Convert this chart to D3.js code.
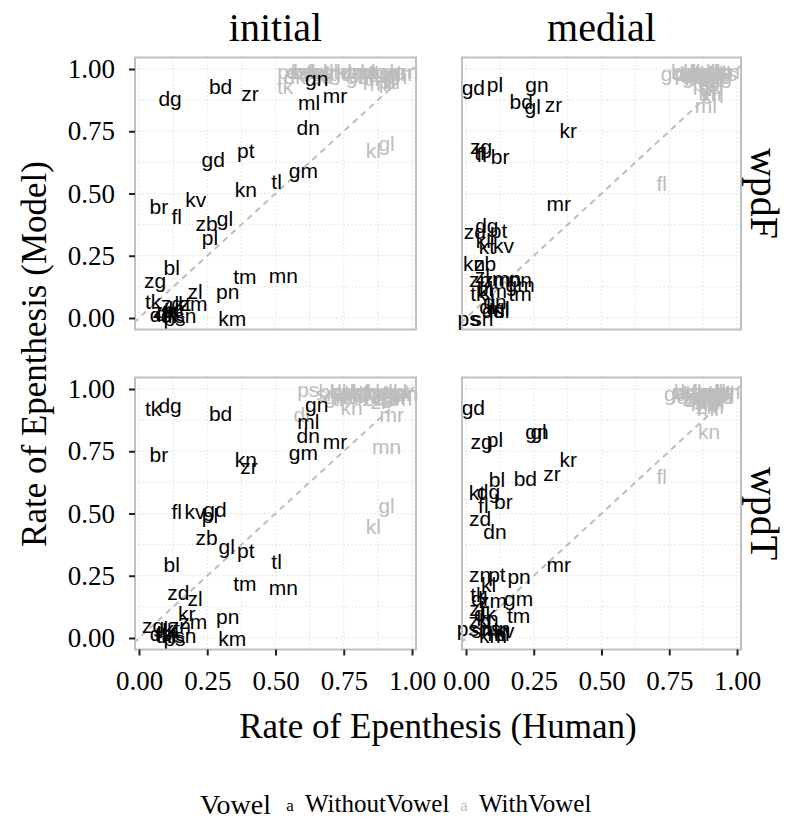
<!DOCTYPE html>
<html>
<head>
<meta charset="utf-8">
<script src="https://cdn.jsdelivr.net/npm/d3@7"></script>
<style>
  body { margin: 0; background: #fff; }
  svg text { font-family: "Liberation Serif", "Times New Roman", serif; }
  .lab { font-family: "Liberation Sans", Arial, sans-serif; font-size: 21px; }
</style>
</head>
<body>
<div id="chart"></div>
<script>
// facets
const positions = ["initial", "medial"];
const corpora = ["wpdF", "wpdT"];
const ticks = [0, 0.25, 0.5, 0.75, 1];
const minorTicks = [0.125, 0.375, 0.625, 0.875];
const vowelLevels = ["WithoutVowel", "WithVowel"];

// [cluster, human rate, model rate]
const initialF_without = [
  ["dg",.114,.883],["bd",.299,.929],["zr",.407,.902],["gn",.651,.963],["mr",.718,.893],
  ["ml",.623,.866],["dn",.620,.764],["pt",.391,.671],["gd",.272,.635],["gm",.602,.594],
  ["tl",.504,.550],["kn",.391,.518],["kv",.208,.474],["br",.073,.447],["fl",.138,.407],
  ["zb",.248,.380],["gl",.315,.400],["pl",.260,.323],["bl",.120,.202],["zg",.059,.149],
  ["tm",.388,.166],["mn",.529,.170],["zl",.205,.106],["pn",.325,.108],["tk",.052,.068],
  ["km",.342,.000],["zd",.120,.060],["kt",.160,.060],["zm",.200,.060],["kr",.140,.040],
  ["ds",.080,.015],["dk",.100,.020],["dl",.110,.010],["ps",.130,.000],["sn",.170,.010],
  ["zn",.090,.030],["kl",.120,.030]
];
const initialF_with = [
  ["kl",.858,.671],["gl",.907,.701],["ps",.547,.990],["tk",.535,.930],
  ["bd",.60,.99],["bl",.66,.99],["br",.93,.95],["dg",.63,.98],["dk",.57,.97],["dl",.70,.99],
  ["dn",.78,.99],["ds",.58,.99],["fl",.86,.98],["gd",.74,.98],["gm",.82,.99],["gn",.80,.97],
  ["km",.90,.99],["kn",.88,.98],["kr",.95,.99],["kt",.84,.99],["kv",.76,.99],["ml",.92,.98],
  ["mn",.97,.99],["mr",.89,.94],["pl",.85,.96],["pn",.94,.97],["pt",.91,.95],["sn",.64,.99],
  ["tl",.68,.98],["tm",.72,.99],["zb",.62,.99],["zd",.67,.97],["zg",.87,.99],["zl",.83,.97],
  ["zm",.79,.99],["zn",.96,.98],["zr",.81,.99]
];
const medialF_without = [
  ["gd",.027,.925],["pl",.107,.938],["gn",.262,.938],["bd",.204,.871],["gl",.246,.849],
  ["zr",.323,.858],["kr",.377,.755],["zg",.056,.688],["tl",.050,.665],["fl",.058,.655],
  ["br",.126,.648],["mr",.342,.461],["dg",.077,.373],["pt",.120,.353],["zd",.033,.347],
  ["kl",.064,.313],["kv",.138,.293],["kt",.077,.286],["kn",.030,.220],["zb",.070,.220],
  ["zn",.052,.153],["zm",.114,.153],["pn",.200,.153],["gm",.200,.133],["tm",.200,.100],
  ["tk",.046,.099],["dn",.107,.066],["ps",.010,.000],["sn",.060,.000],["ds",.100,.030],
  ["dl",.130,.030],["dk",.090,.045],["bl",.070,.120],["km",.100,.110],["ml",.120,.040],
  ["mn",.150,.160],["zl",.060,.170]
];
const medialF_with = [
  ["fl",.722,.541],["gd",.762,.983],["ml",.885,.855],["zn",.910,.922],["kn",.910,.895],
  ["bd",.80,.99],["bl",.83,.98],["br",.86,.99],["dg",.88,.97],["dk",.90,.99],["dl",.92,.98],
  ["dn",.94,.99],["ds",.96,.98],["gl",.82,.99],["gm",.85,.97],["gn",.87,.99],["kl",.89,.98],
  ["km",.91,.97],["kr",.93,.96],["kt",.95,.99],["kv",.84,.99],["mn",.86,.96],["mr",.90,.95],
  ["pl",.92,.94],["pn",.88,.94],["ps",.81,.98],["pt",.93,.99],["sn",.97,.99],["tk",.89,.93],
  ["tl",.91,.99],["tm",.90,.90],["zb",.85,.99],["zd",.87,.98],["zg",.94,.97],["zl",.89,.96],
  ["zm",.92,.97],["zr",.90,.92]
];
const initialT_without = [
  ["tk",.052,.922],["dg",.114,.933],["bd",.299,.902],["gn",.651,.936],["ml",.620,.869],
  ["dn",.620,.815],["mr",.718,.791],["gm",.602,.746],["br",.073,.738],["kn",.391,.715],
  ["zr",.403,.688],["fl",.138,.510],["kv",.205,.507],["gd",.278,.518],["pl",.260,.491],
  ["zb",.248,.403],["gl",.321,.367],["pt",.391,.353],["tl",.504,.309],["bl",.120,.296],
  ["tm",.388,.220],["mn",.529,.202],["zd",.144,.183],["zl",.205,.159],["kr",.175,.099],
  ["zm",.199,.068],["pn",.325,.086],["zg",.052,.052],["km",.342,.000],["ds",.080,.020],
  ["ps",.130,.000],["sn",.170,.010],["kt",.120,.040],["dk",.100,.030],["zn",.150,.050],
  ["kl",.110,.010],["dl",.090,.010]
];
const initialT_with = [
  ["ps",.620,.996],["dl",.596,.896],["kn",.779,.925],["mr",.926,.896],["mn",.907,.768],
  ["gl",.907,.534],["kl",.858,.447],
  ["bd",.70,.99],["bl",.73,.99],["br",.76,.98],["dg",.79,.99],["dk",.82,.98],["dn",.85,.99],
  ["ds",.88,.99],["fl",.91,.98],["gd",.94,.99],["gm",.97,.98],["gn",.72,.97],["km",.75,.99],
  ["kr",.78,.97],["kt",.81,.99],["kv",.84,.97],["ml",.87,.98],["pl",.90,.99],["pn",.93,.97],
  ["pt",.96,.99],["sn",.69,.98],["tk",.74,.96],["tl",.77,.99],["tm",.80,.97],["zb",.83,.99],
  ["zd",.86,.96],["zg",.89,.97],["zl",.92,.99],["zm",.95,.96],["zn",.98,.98],["zr",.88,.95]
];
const medialT_without = [
  ["gd",.027,.925],["zg",.058,.791],["pl",.107,.799],["gn",.262,.829],["gl",.268,.829],
  ["kr",.377,.715],["zr",.317,.661],["bd",.219,.641],["bl",.114,.637],["kt",.040,.585],
  ["dg",.083,.588],["fl",.064,.534],["br",.138,.547],["zd",.052,.478],["dn",.107,.427],
  ["mr",.342,.296],["zn",.052,.256],["pt",.114,.256],["pn",.196,.246],["kl",.083,.213],
  ["tk",.046,.173],["gm",.194,.159],["zm",.100,.150],["zl",.040,.120],["tm",.194,.090],
  ["ps",.007,.040],["dl",.050,.160],["sn",.060,.030],["km",.100,.010],["kv",.140,.030],
  ["ds",.090,.040],["ml",.120,.020],["dk",.070,.100],["kn",.080,.080],["mn",.110,.040],
  ["tl",.130,.020],["zb",.050,.070]
];
const medialT_with = [
  ["kn",.897,.829],["fl",.722,.648],["mr",.897,.922],["gd",.774,.983],["zl",.836,.956],
  ["bd",.81,.99],["bl",.84,.98],["br",.87,.99],["dg",.90,.97],["dk",.93,.99],["dl",.96,.98],
  ["dn",.82,.97],["ds",.85,.99],["gl",.88,.98],["gm",.91,.99],["gn",.94,.97],["kl",.86,.96],
  ["km",.89,.99],["kr",.92,.96],["kt",.95,.99],["kv",.83,.99],["ml",.87,.94],["mn",.90,.95],
  ["pl",.93,.98],["pn",.97,.99],["ps",.80,.99],["pt",.88,.96],["sn",.91,.98],["tk",.86,.99],
  ["tl",.94,.99],["tm",.89,.95],["zb",.92,.99],["zd",.95,.97],["zg",.84,.96],["zm",.90,.93],
  ["zn",.87,.97],["zr",.93,.95]
];

const panels = [
  { col: 0, row: 0, without: initialF_without, with: initialF_with },
  { col: 1, row: 0, without: medialF_without, with: medialF_with },
  { col: 0, row: 1, without: initialT_without, with: initialT_with },
  { col: 1, row: 1, without: medialT_without, with: medialT_with },
];

// layout: pixel range of the 0..1 data interval per facet column / row
const colRange = [[139, 412], [466, 737]];
const rowRange = [[318, 69], [638, 389]];
const padX = 4, padY = 11.5;
const vowelColor = { WithoutVowel: "#000000", WithVowel: "#bdbdbd" };
const gridColor = "#d9d9d9";
const borderColor = "#c0c0c0";

const svg = d3.select("#chart").append("svg")
  .attr("width", 792).attr("height", 820);

panels.forEach((p, i) => {
  const x = d3.scaleLinear().domain([0, 1]).range(colRange[p.col]);
  const y = d3.scaleLinear().domain([0, 1]).range(rowRange[p.row]);
  const left = x(0) - padX, right = x(1) + padX;
  const top = y(1) - padY, bottom = y(0) + padY;

  const g = svg.append("g");
  svg.append("clipPath").attr("id", "clip" + i)
    .append("rect").attr("x", left).attr("y", top)
    .attr("width", right - left).attr("height", bottom - top);

  g.append("rect").attr("x", left).attr("y", top)
    .attr("width", right - left).attr("height", bottom - top)
    .attr("fill", "#fff");

  // grid (major + minor), dotted
  const grid = g.append("g").attr("stroke", gridColor)
    .attr("stroke-width", 1).attr("stroke-dasharray", "1.2,2.6");
  ticks.concat(minorTicks).forEach(t => {
    grid.append("line").attr("x1", x(t)).attr("x2", x(t)).attr("y1", top).attr("y2", bottom);
    grid.append("line").attr("x1", left).attr("x2", right).attr("y1", y(t)).attr("y2", y(t));
  });

  // reference line y = x
  g.append("line")
    .attr("clip-path", `url(#clip${i})`)
    .attr("x1", x(-0.05)).attr("y1", y(-0.05))
    .attr("x2", x(1.05)).attr("y2", y(1.05))
    .attr("stroke", "#bdbdbd").attr("stroke-width", 2)
    .attr("stroke-dasharray", "6,5");

  // labels
  const rows = p.with.map(d => ({ v: "WithVowel", d }))
    .concat(p.without.map(d => ({ v: "WithoutVowel", d })));
  g.selectAll("text.lab").data(rows).join("text")
    .attr("class", "lab")
    .attr("x", r => x(r.d[1]))
    .attr("y", r => y(r.d[2]))
    .attr("text-anchor", "middle")
    .attr("dominant-baseline", "central")
    .attr("fill", r => vowelColor[r.v])
    .text(r => r.d[0]);

  g.append("rect").attr("x", left).attr("y", top)
    .attr("width", right - left).attr("height", bottom - top)
    .attr("fill", "none").attr("stroke", borderColor).attr("stroke-width", 2);

  // axes
  if (p.col === 0) {
    const ax = svg.append("g").attr("transform", `translate(${left},0)`)
      .call(d3.axisLeft(y).tickValues(ticks).tickFormat(d3.format(".2f"))
        .tickSize(6).tickPadding(14));
    ax.select(".domain").remove();
    ax.selectAll("line").attr("stroke", "#222").attr("stroke-width", 2);
    ax.selectAll("text").attr("font-size", 27).attr("fill", "#000")
      .attr("font-family", "Liberation Serif, serif");
  }
  if (p.row === 1) {
    const ax = svg.append("g").attr("transform", `translate(0,${bottom})`)
      .call(d3.axisBottom(x).tickValues(ticks).tickFormat(d3.format(".2f"))
        .tickSize(6).tickPadding(15));
    ax.select(".domain").remove();
    ax.selectAll("line").attr("stroke", "#222").attr("stroke-width", 2);
    ax.selectAll("text").attr("font-size", 27).attr("fill", "#000")
      .attr("font-family", "Liberation Serif, serif");
  }

  // strips
  if (p.row === 0) {
    svg.append("text").attr("x", (left + right) / 2).attr("y", 41)
      .attr("text-anchor", "middle").attr("font-size", 40)
      .text(positions[p.col]);
  }
  if (p.col === 1) {
    const cy = (top + bottom) / 2;
    svg.append("text").attr("transform", `translate(764,${cy}) rotate(90)`)
      .attr("text-anchor", "middle").attr("dominant-baseline", "central")
      .attr("font-size", 40).text(corpora[p.row]);
  }
});

// axis titles
svg.append("text").attr("transform", "translate(34,354) rotate(-90)")
  .attr("text-anchor", "middle").attr("dominant-baseline", "central")
  .attr("font-size", 35).text("Rate of Epenthesis (Model)");
svg.append("text").attr("x", 438).attr("y", 738)
  .attr("text-anchor", "middle").attr("font-size", 35)
  .text("Rate of Epenthesis (Human)");

// legend
const leg = svg.append("g").attr("transform", "translate(0,814)");
leg.append("text").attr("x", 200).attr("y", 0).attr("font-size", 28).text("Vowel");
const legX = [290, 464];
vowelLevels.forEach((v, i) => {
  leg.append("text").attr("x", legX[i]).attr("y", -3)
    .attr("text-anchor", "middle").attr("font-size", 17)
    .attr("font-family", "Liberation Sans, Arial, sans-serif")
    .attr("fill", vowelColor[v]).text("a");
  leg.append("text").attr("x", legX[i] + 15).attr("y", -2)
    .attr("font-size", 25).text(v);
});
</script>
</body>
</html>
